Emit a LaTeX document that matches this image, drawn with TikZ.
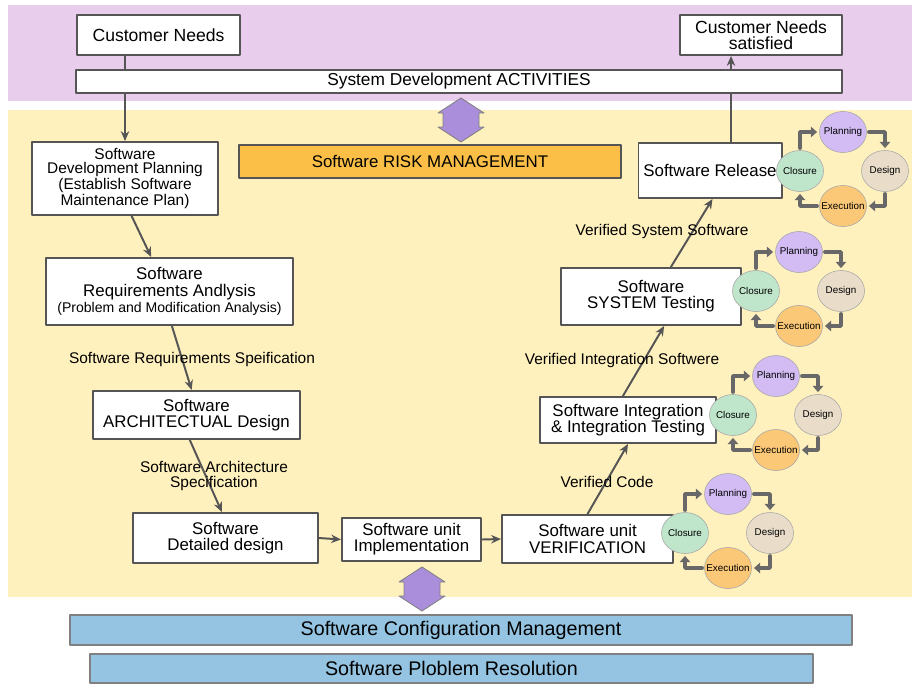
\documentclass[tikz,border=0pt]{standalone}
\usepackage{fontspec}
\setmainfont{Liberation Sans}
\usetikzlibrary{arrows.meta,shapes.geometric}
\definecolor{bandpurple}{HTML}{E8CDEC}
\definecolor{bandyellow}{HTML}{FFF1BE}
\definecolor{riskorange}{HTML}{FBBF47}
\definecolor{barblue}{HTML}{94C4E1}
\definecolor{linegray}{HTML}{555555}
\definecolor{turngray}{HTML}{686868}
\definecolor{arrpurple}{HTML}{AA8EDB}
\definecolor{plcol}{HTML}{D2BCF3}
\definecolor{decol}{HTML}{E9DDCA}
\definecolor{excol}{HTML}{FBC878}
\definecolor{clcol}{HTML}{BFE6CB}
\tikzset{
  box/.style={draw=linegray, line width=1.4pt, fill=white, align=center, inner sep=1.5pt,
    font=\fontsize{12}{11.5}\selectfont},
  wide/.style={draw=gray, line width=0.9pt, align=center, inner sep=1pt},
  lbl/.style={align=center, font=\fontsize{11}{11}\selectfont},
  flow/.style={draw=linegray, line width=1.4pt, -{Stealth[length=7pt,width=6pt]}},
  plain/.style={draw=linegray, line width=1.4pt},
  ell/.style={ellipse, draw=gray!70, inner sep=0pt, minimum width=1.175cm,
    minimum height=1.025cm, font=\fontsize{7}{8}\selectfont},
  turn/.style={draw=turngray, line width=2.6pt, shorten <=1.5pt, shorten >=1.5pt,
    -{Triangle[length=4.5pt,width=7.5pt]}},
  dblarr/.style={fill=arrpurple, draw=gray, line width=0.6pt}
}
% name, x, y of the planning/design/execution/closure loop
\newcommand{\phasecycle}[3]{%
  \begin{scope}[shift={(#2,#3)}]
    \node[ell, fill=plcol] (#1-pl) at (0,-39) {\makebox[0pt]{Planning}};
    \node[ell, fill=decol] (#1-de) at (42,0) {\makebox[0pt]{Design}};
    \node[ell, fill=excol] (#1-ex) at (0,35) {\makebox[0pt]{Execution}};
    \node[ell, fill=clcol] (#1-cl) at (-43,0) {\makebox[0pt]{Closure}};
  \end{scope}
  \draw[turn] (#1-cl.north) |- (#1-pl.west);
  \draw[turn] (#1-pl.east) -| (#1-de.north);
  \draw[turn] (#1-de.south) |- (#1-ex.east);
  \draw[turn] (#1-ex.west) -| (#1-cl.south);
}
\begin{document}
\begin{tikzpicture}[x=0.025cm, y=-0.025cm, line join=round, line cap=round]
  \useasboundingbox (0,0) rectangle (912,684);
  \fill[bandpurple] (8,5) rectangle (912,101);
  \fill[bandyellow] (8,110) rectangle (912,597);

  \node[box, minimum width=4.075cm, minimum height=1cm, font=\fontsize{12.5}{11}\selectfont]
    (cn) at (158.5,35) {Customer Needs};
  \node[box, minimum width=4.05cm, minimum height=1cm, font=\fontsize{12.5}{11}\selectfont]
    (sat) at (761,35) {Customer Needs\\satisfied};
  \node[box, line width=1pt, minimum width=19.15cm, minimum height=0.575cm,
    font=\fontsize{12.3}{12}\selectfont] (bar) at (459,81.5) {System Development ACTIVITIES};
  \node[box, fill=riskorange, line width=1pt, minimum width=9.55cm, minimum height=0.825cm]
    (risk) at (430,161.5) {Software RISK MANAGEMENT};

  \node[box, minimum width=4.65cm, minimum height=1.825cm, font=\fontsize{11}{10}\selectfont]
    (plan) at (125,178.5) {Software\\Development Planning\\(Establish Software\\Maintenance Plan)};
  \node[box, minimum width=6.175cm, minimum height=1.675cm]
    (req) at (169.5,291.5) {Software\\Requirements Andlysis\\{\fontsize{10}{10}\selectfont (Problem and Modification Analysis)}};
  \node[box, minimum width=5.175cm, minimum height=1.2cm]
    (arch) at (196.5,415) {Software\\ARCHITECTUAL Design};
  \node[box, minimum width=4.625cm, minimum height=1.25cm]
    (det) at (225.5,538) {Software\\Detailed design};
  \node[box, minimum width=3.475cm, minimum height=1.075cm]
    (impl) at (411.5,539.5) {Software unit\\Implementation};
  \node[box, minimum width=4.275cm, minimum height=1.2cm]
    (ver) at (587.5,539) {Software unit\\VERIFICATION};
  \node[box, minimum width=4.4cm, minimum height=1.15cm]
    (integ) at (628,420) {Software Integration\\\& Integration Testing};
  \node[box, minimum width=4.5cm, minimum height=1.425cm]
    (sys) at (651,296.5) {Software\\SYSTEM Testing};
  \node[box, minimum width=3.575cm, minimum height=1.375cm]
    (rel) at (710,170.5) {Software Release};

  \node[wide, fill=barblue, minimum width=19.55cm, minimum height=0.75cm,
    font=\fontsize{14}{14}\selectfont] (scm) at (461,630) {Software Configuration Management};
  \node[wide, fill=barblue, minimum width=18.075cm, minimum height=0.725cm,
    font=\fontsize{14}{14}\selectfont] (spr) at (451.5,668.5) {Software Ploblem Resolution};

  \foreach \ax/\ay in {461/120, 422/589}
    \draw[dblarr, shift={(\ax,\ay)}] (0,-22) -- (23,-7) -- (18,-7) -- (18,7) -- (23,7) -- (0,22)
      -- (-23,7) -- (-18,7) -- (-18,-7) -- (-23,-7) -- cycle;

  \coordinate (rx) at (731,0);
  \draw[plain] (cn.south -| plan.north) -- (bar.north -| plan.north);
  \draw[flow] (bar.south -| plan.north) -- (plan.north);
  \draw[flow] (plan.-80) -- (req.118);
  \draw[flow] (req.-86) -- (arch.101);
  \draw[flow] (arch.-105) -- (det.98);
  \draw[flow] (det.east) -- (impl.west);
  \draw[flow] (impl.east) -- (ver.west);
  \draw[flow] (ver.north) -- (integ.south);
  \draw[flow] (integ.102) -- (sys.-66);
  \draw[flow] (sys.56) -- (rel.-85);
  \draw[plain] (rel.north -| rx) -- (bar.south -| rx);
  \draw[flow] (bar.north -| rx) -- (sat.south -| rx);

  \node[lbl] (rsl) at (192,359) {Software Requirements Speification};
  \node[lbl] (asl) at (214,476) {Software Architecture\\Specification};
  \node[lbl] (vcl) at (607,482) {Verified Code};
  \node[lbl] (vil) at (622,360) {Verified Integration Softwere};
  \node[lbl] (vsl) at (662,231) {Verified System Software};

  \phasecycle{rc}{843}{171}
  \phasecycle{sc}{799}{291}
  \phasecycle{ic}{776}{415}
  \phasecycle{vc}{728}{533}
\end{tikzpicture}
\end{document}
